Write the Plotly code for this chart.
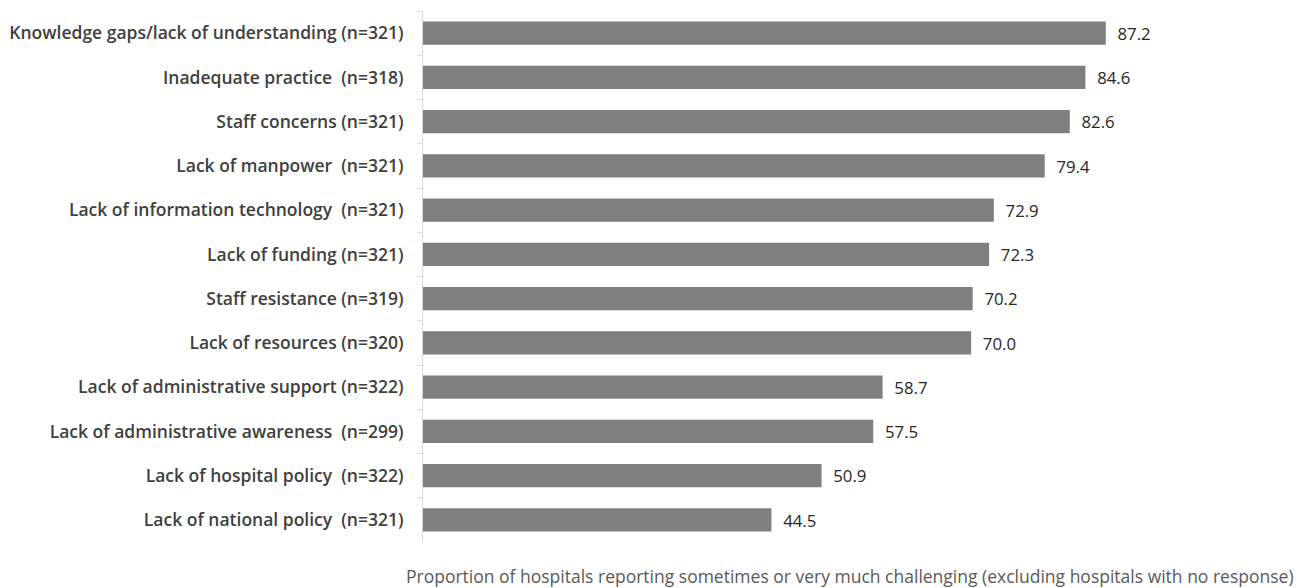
import plotly.graph_objects as go

categories = [
    "Knowledge gaps/lack of understanding (n=321)",
    "Inadequate practice  (n=318)",
    "Staff concerns (n=321)",
    "Lack of manpower  (n=321)",
    "Lack of information technology  (n=321)",
    "Lack of funding (n=321)",
    "Staff resistance (n=319)",
    "Lack of resources (n=320)",
    "Lack of administrative support (n=322)",
    "Lack of administrative awareness  (n=299)",
    "Lack of hospital policy  (n=322)",
    "Lack of national policy  (n=321)",
]
values = [87.2, 84.6, 82.6, 79.4, 72.9, 72.3, 70.2, 70.0, 58.7, 57.5, 50.9, 44.5]
axis_title = "Proportion of hospitals reporting sometimes or very much challenging (excluding hospitals with no response)"

FONT = "Open Sans"

fig = go.Figure(go.Bar(
    x=values,
    y=categories,
    orientation="h",
    marker=dict(color="#7f7f7f", line=dict(width=0)),
    texttemplate="\u00a0\u00a0%{x:.1f}",
    textposition="outside",
    textfont=dict(family=FONT, size=17.5, color="#262626"),
    cliponaxis=False,
    width=0.52,
))

L, R, T, B = 423, 93, 11, 46
W, H = 1299, 588

fig.update_layout(
    width=W, height=H,
    margin=dict(l=L, r=R, t=T, b=B, pad=0, autoexpand=False),
    plot_bgcolor="white",
    paper_bgcolor="white",
    showlegend=False,
    xaxis=dict(range=[0, 100], visible=False, showgrid=False, zeroline=False, automargin=False),
    yaxis=dict(
        autorange="reversed",
        automargin=False,
        showline=True, linecolor="#d9d9d9", linewidth=1,
        ticks="outside", tickson="boundaries", ticklen=5, tickcolor="#d9d9d9",
        tickfont=dict(family=FONT, size=17.5, color="#404040", weight=600),
        ticklabelstandoff=15,
        showgrid=False,
    ),
    annotations=[dict(
        text=axis_title,
        xref="paper", yref="paper",
        x=(1296 - L) / (W - L - R), y=-(576 - (H - B)) / (H - T - B),
        xanchor="right", yanchor="middle",
        showarrow=False,
        font=dict(family=FONT, size=17.5, color="#595959"),
    )],
)

fig.write_html("out.html")
